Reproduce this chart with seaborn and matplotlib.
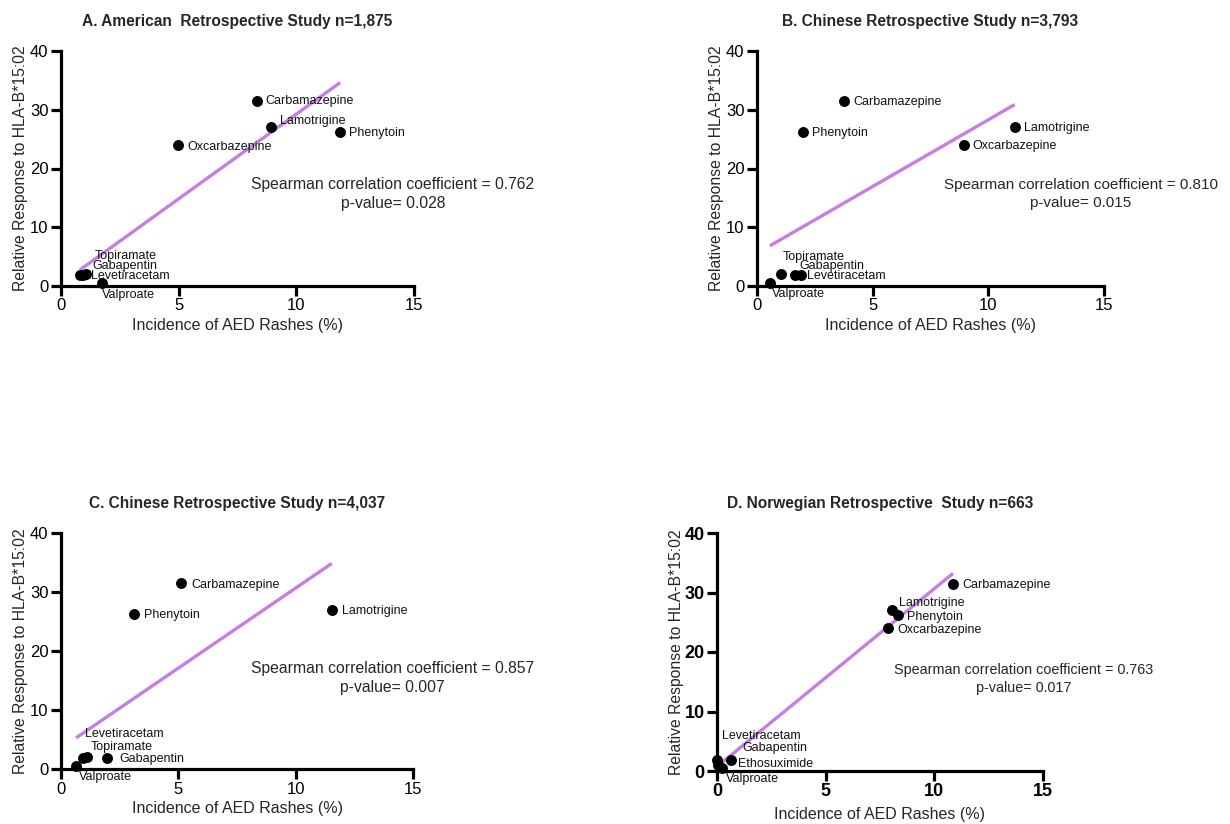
import matplotlib
matplotlib.use("Agg")
import matplotlib.pyplot as plt
import pandas as pd
import seaborn as sns

sns.set_theme(style="ticks")
plt.rcParams["font.family"] = ["Liberation Sans", "DejaVu Sans"]

# Relative response of each antiepileptic drug to HLA-B*15:02
drug_names = ["Carbamazepine", "Lamotrigine", "Phenytoin", "Oxcarbazepine",
              "Topiramate", "Gabapentin", "Levetiracetam", "Valproate", "Ethosuximide"]
hla_response = [31.5, 27.0, 26.2, 24.0, 2.1, 1.8, 1.8, 0.5, 1.0]

# Incidence of rashes (%) in each retrospective study
a_drugs = ["Carbamazepine", "Lamotrigine", "Phenytoin", "Oxcarbazepine",
           "Topiramate", "Gabapentin", "Levetiracetam", "Valproate"]
a_rash = [8.32, 8.93, 11.86, 4.99, 1.07, 0.95, 0.80, 1.75]

b_drugs = ["Carbamazepine", "Phenytoin", "Lamotrigine", "Oxcarbazepine",
           "Topiramate", "Gabapentin", "Levetiracetam", "Valproate"]
b_rash = [3.75, 1.99, 11.14, 8.94, 1.02, 1.63, 1.92, 0.56]

c_drugs = ["Carbamazepine", "Phenytoin", "Lamotrigine",
           "Levetiracetam", "Topiramate", "Gabapentin", "Valproate"]
c_rash = [5.11, 3.11, 11.54, 0.92, 1.10, 1.97, 0.64]

d_drugs = ["Carbamazepine", "Lamotrigine", "Phenytoin", "Oxcarbazepine",
           "Levetiracetam", "Gabapentin", "Ethosuximide", "Valproate"]
d_rash = [10.86, 8.07, 8.32, 7.89, 0.0, 0.65, 0.05, 0.25]

panel_titles = ["A. American  Retrospective Study n=1,875",
                "B. Chinese Retrospective Study n=3,793",
                "C. Chinese Retrospective Study n=4,037",
                "D. Norwegian Retrospective  Study n=663"]
spearman_rho = ["0.762", "0.810", "0.857", "0.763"]
p_values = ["0.028", "0.015", "0.007", "0.017"]

x_ticks = [0, 5, 10, 15]
y_ticks = [0, 10, 20, 30, 40]
x_label = "Incidence of AED Rashes (%)"
y_label = "Relative Response to HLA-B*15:02"

response_of = dict(zip(drug_names, hla_response))

# Label offsets in pixels (dx to the right, dy upward) for each drug name
label_offsets = [
    {"Carbamazepine": (9, 0), "Lamotrigine": (9, 6), "Phenytoin": (9, -1),
     "Oxcarbazepine": (9, -2), "Topiramate": (9, 18), "Gabapentin": (9, 9),
     "Levetiracetam": (11, -1), "Valproate": (0, -12)},
    {"Carbamazepine": (10, -1), "Phenytoin": (9, -1), "Lamotrigine": (9, -1),
     "Oxcarbazepine": (9, -1), "Topiramate": (2, 17), "Gabapentin": (5, 9),
     "Levetiracetam": (6, -1), "Valproate": (2, -11)},
    {"Carbamazepine": (10, -2), "Phenytoin": (10, -1), "Lamotrigine": (10, -1),
     "Levetiracetam": (2, 24), "Topiramate": (4, 10), "Gabapentin": (12, -1),
     "Valproate": (3, -11)},
    {"Carbamazepine": (9, -1), "Lamotrigine": (7, 7), "Phenytoin": (9, -2),
     "Oxcarbazepine": (9, -2), "Levetiracetam": (5, 24), "Gabapentin": (11, 12),
     "Ethosuximide": (20, 1), "Valproate": (4, -11)},
]

# Axes rectangles [left, bottom, width, height] in figure fractions
W, H = 1230.0, 824.0
rects = [
    [61 / W, 1 - 286 / H, 353 / W, 235 / H],
    [757 / W, 1 - 286 / H, 347 / W, 235 / H],
    [61 / W, 1 - 769 / H, 352 / W, 236 / H],
    [717 / W, 1 - 771 / H, 326 / W, 238 / H],
]
# Centre of the correlation note (data units) and its font size
text_pos = [(14.1, 15.6), (14.0, 15.6), (14.13, 15.4), (14.1, 15.4)]
text_size = [11.3, 11, 11.3, 10.4]

line_color = "#c77ee3"

fig = plt.figure(figsize=(12.3, 8.24), dpi=100)

panels = [(a_drugs, a_rash), (b_drugs, b_rash), (c_drugs, c_rash), (d_drugs, d_rash)]
for i, (drugs, rash) in enumerate(panels):
    ax = fig.add_axes(rects[i])
    df = pd.DataFrame({"drug": drugs, "rash": rash,
                       "response": [response_of[d] for d in drugs]})
    sns.regplot(data=df, x="rash", y="response", ax=ax, ci=None,
                scatter_kws=dict(s=62, color="black", linewidths=0,
                                 clip_on=False, zorder=3, alpha=1),
                line_kws=dict(color=line_color, lw=2.4, zorder=2,
                              solid_capstyle="butt"))
    for _, row in df.iterrows():
        dx, dy = label_offsets[i][row["drug"]]
        ax.annotate(row["drug"], (row["rash"], row["response"]),
                    xytext=(dx, dy), textcoords="offset pixels",
                    ha="left", va="center", fontsize=9, color="#111111",
                    annotation_clip=False)

    ax.set_xlim(0, 15)
    ax.set_ylim(0, 40)
    ax.set_xticks(x_ticks)
    ax.set_yticks(y_ticks)
    sns.despine(ax=ax)
    for side in ("left", "bottom"):
        ax.spines[side].set_linewidth(2.3)
        ax.spines[side].set_color("black")

    bold = i == 3
    ax.tick_params(direction="out", length=7, width=2.3, pad=2,
                   labelsize=13 if bold else 12, colors="black")
    if bold:
        for lab in ax.get_xticklabels() + ax.get_yticklabels():
            lab.set_fontweight("bold")

    ax.set_xlabel(x_label, fontsize=11.5, labelpad=5 if bold else 3)
    ax.set_ylabel(y_label, fontsize=11.3, labelpad=0 if bold else 1.5)
    ax.set_title(panel_titles[i], fontsize=11.2, fontweight="bold", pad=18)

    tx, ty = text_pos[i]
    ax.text(tx, ty,
            f"Spearman correlation coefficient = {spearman_rho[i]}\n"
            f"p-value= {p_values[i]}",
            ha="center", va="center", fontsize=text_size[i], linespacing=1.35,
            clip_on=False)

fig.savefig("out.png", dpi=100, facecolor="white")
